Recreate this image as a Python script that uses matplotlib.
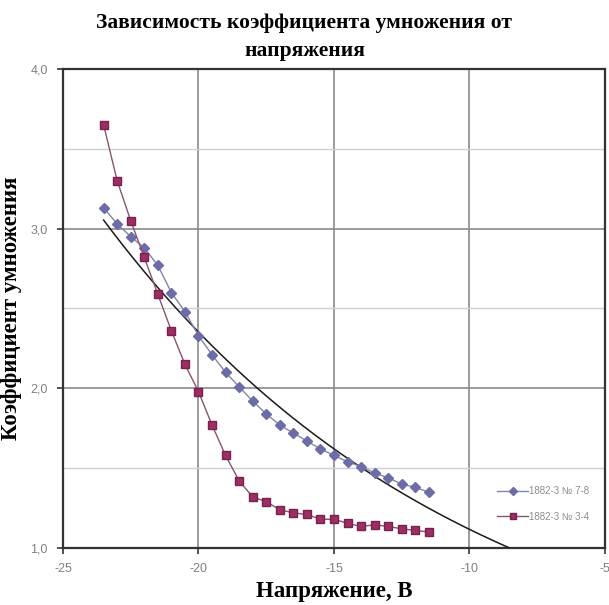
import numpy as np
import matplotlib.pyplot as plt
from matplotlib.ticker import MultipleLocator, FuncFormatter

# ==========================================
# DATA
# ==========================================
voltage = [-23.5, -23.0, -22.5, -22.0, -21.5, -21.0, -20.5, -20.0, -19.5,
           -19.0, -18.5, -18.0, -17.5, -17.0, -16.5, -16.0, -15.5, -15.0,
           -14.5, -14.0, -13.5, -13.0, -12.5, -12.0, -11.5]

gain_78 = [3.13, 3.03, 2.95, 2.88, 2.77, 2.60, 2.48, 2.33, 2.21,
           2.10, 2.01, 1.92, 1.84, 1.77, 1.72, 1.67, 1.62, 1.58,
           1.54, 1.51, 1.47, 1.44, 1.40, 1.38, 1.35]

gain_34 = [3.65, 3.30, 3.05, 2.82, 2.59, 2.36, 2.15, 1.98, 1.77,
           1.58, 1.42, 1.32, 1.29, 1.24, 1.22, 1.21, 1.18, 1.18,
           1.155, 1.135, 1.145, 1.135, 1.12, 1.11, 1.10]

series_names = ['1882-3 № 7-8', '1882-3 № 3-4']
trend_end = -8.5   # exponential trendline is extended forward to here

TITLE = 'Зависимость коэффициента умножения от\nнапряжения'
XLABEL = 'Напряжение, В'
YLABEL = 'Коэффициент умножения'

# ==========================================
# STYLE
# ==========================================
BLUE = '#6c6ca6'
PLUM = '#9b2f62'
SERIF = 'Liberation Serif'
SANS = 'Liberation Sans'

fig = plt.figure(figsize=(6.09, 6.05), dpi=100)
ax = fig.add_axes([0.1034, 0.0942, 0.89, 0.7918])

# exponential trendline fitted to the 7-8 series (like Excel does)
b, log_a = np.polyfit(voltage, np.log(gain_78), 1)
x_trend = np.linspace(voltage[0], trend_end, 200)
ax.plot(x_trend, np.exp(log_a) * np.exp(b * x_trend), color='#1a1a1a', lw=1.1, zorder=3)

ax.plot(voltage, gain_78, color='#8484a8', lw=1.0, marker='D', markersize=5.2,
        markerfacecolor=BLUE, markeredgecolor=BLUE, label=series_names[0], zorder=4)
ax.plot(voltage, gain_34, color='#86566c', lw=1.0, marker='s', markersize=6.0,
        markerfacecolor=PLUM, markeredgecolor='#7a2050', label=series_names[1], zorder=4)

ax.set_xlim(-25, -5)
ax.set_ylim(1.0, 4.0)
ax.xaxis.set_major_locator(MultipleLocator(5))
ax.yaxis.set_major_locator(MultipleLocator(1.0))
ax.yaxis.set_minor_locator(MultipleLocator(0.5))
ax.yaxis.set_major_formatter(FuncFormatter(lambda v, p: f'{v:.1f}'.replace('.', ',')))
ax.xaxis.set_major_formatter(FuncFormatter(lambda v, p: f'{v:.0f}'))

ax.grid(True, which='major', color='#8a8a8a', lw=1.2)
ax.grid(True, which='minor', axis='y', color='#cfcfcf', lw=1.0)
ax.set_axisbelow(True)

for s in ax.spines.values():
    s.set_color('#333333')
    s.set_linewidth(1.6)

ax.tick_params(which='major', direction='out', length=4, width=1.2, color='#333333',
               labelsize=9, labelcolor='#808080', pad=7)
ax.tick_params(which='minor', length=0)
for lab in ax.get_xticklabels() + ax.get_yticklabels():
    lab.set_family(SANS)

ax.set_xlabel(XLABEL, family=SERIF, fontweight='bold', fontsize=16.5, labelpad=4)
ax.set_ylabel(YLABEL, family=SERIF, fontweight='bold', fontsize=16.5, labelpad=6)

fig.text(0.5, 0.979, TITLE, ha='center', va='top', family=SERIF, fontweight='bold',
         fontsize=15.5, linespacing=1.55)

leg = ax.legend(loc='center left', bbox_to_anchor=(0.785, 0.092), frameon=False,
                handlelength=3.2, labelspacing=1.6, handletextpad=0.1, markerscale=0.75,
                prop={'family': SANS, 'size': 7})
for t in leg.get_texts():
    t.set_color('#8c8c8c')

plt.savefig('out.png', dpi=100)
